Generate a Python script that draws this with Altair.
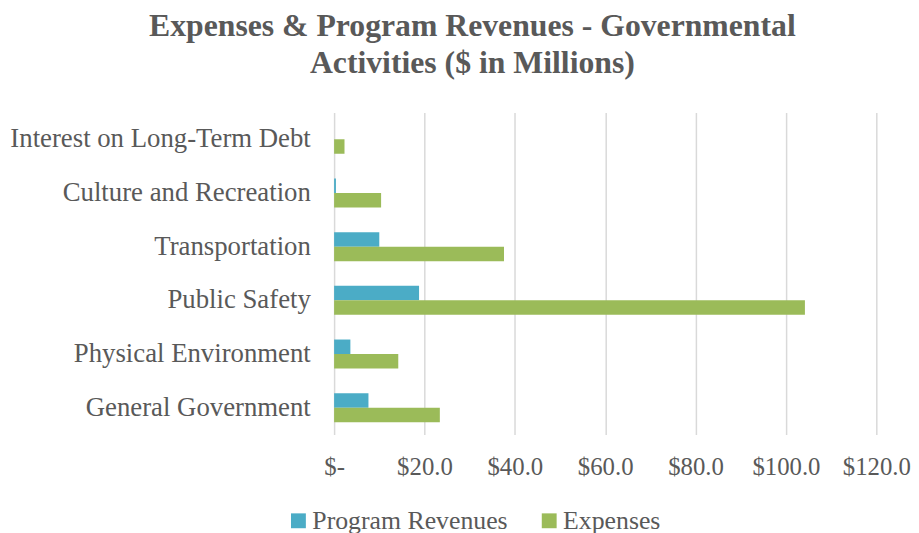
import altair as alt
import pandas as pd

categories = [
    "Interest on Long-Term Debt",
    "Culture and Recreation",
    "Transportation",
    "Public Safety",
    "Physical Environment",
    "General Government",
]
program_revenues = [0.0, 0.4, 10.0, 18.8, 3.6, 7.6]
expenses = [2.3, 10.4, 37.6, 104.2, 14.2, 23.4]
series = ["Program Revenues", "Expenses"]
colors = ["#4bacc6", "#9bbb59"]
x_ticks = [0, 20, 40, 60, 80, 100, 120]

rows = []
for c, p, e in zip(categories, program_revenues, expenses):
    rows.append({"category": c, "series": series[0], "value": p})
    rows.append({"category": c, "series": series[1], "value": e})
df = pd.DataFrame(rows)

FONT = "Liberation Serif"
TXT = "#595959"
NB = "\u00a0"

chart = (
    alt.Chart(df)
    .mark_bar()
    .encode(
        x=alt.X(
            "value:Q",
            scale=alt.Scale(domain=[0, 120], nice=False, zero=True),
            axis=alt.Axis(
                values=x_ticks,
                title=None,
                domain=False,
                ticks=False,
                grid=True,
                gridColor="#d9d9d9",
                gridWidth=1.5,
                labelFont=FONT,
                labelFontSize=25,
                labelColor=TXT,
                labelPadding=20,
                labelFlush=False,
                labelExpr="datum.value == 0 ? '$-" + NB * 8 + "' : '$' + format(datum.value, '.1f')",
            ),
        ),
        y=alt.Y(
            "category:N",
            sort=categories,
            scale=alt.Scale(paddingInner=0.46, paddingOuter=0.23),
            axis=alt.Axis(
                title=None,
                domain=False,
                ticks=False,
                grid=False,
                labelFont=FONT,
                labelFontSize=27,
                labelColor=TXT,
                labelPadding=24,
                labelLimit=400,
            ),
        ),
        yOffset=alt.YOffset("series:N", sort=series),
        color=alt.Color(
            "series:N",
            sort=series,
            scale=alt.Scale(domain=series, range=colors),
            legend=alt.Legend(
                title=None,
                orient="none",
                legendX=-49,
                legendY=399,
                direction="horizontal",
                symbolType="square",
                symbolSize=225,
                symbolStrokeWidth=0,
                labelFont=FONT,
                labelFontSize=26,
                labelColor=TXT,
                labelOffset=1,
                columnPadding=28,
                labelLimit=400,
            ),
        ),
    )
    .properties(
        width=547,
        height=325,
        autosize=alt.AutoSizeParams(type="none"),
        padding={"left": 329, "top": 103, "right": 35, "bottom": 100},
        title=alt.TitleParams(
            text=["Expenses & Program Revenues - Governmental", "Activities ($ in Millions)"],
            font=FONT,
            fontSize=32,
            fontWeight="bold",
            color=TXT,
            anchor="middle",
            frame="group",
            dx=-134,
            offset=33,
            lineHeight=37,
        ),
    )
    .configure(font=FONT)
    .configure_view(stroke=None)
    .configure_legend(labelFont=FONT)
)

chart.save("out.html", embed_options={"renderer": "svg", "actions": False})
